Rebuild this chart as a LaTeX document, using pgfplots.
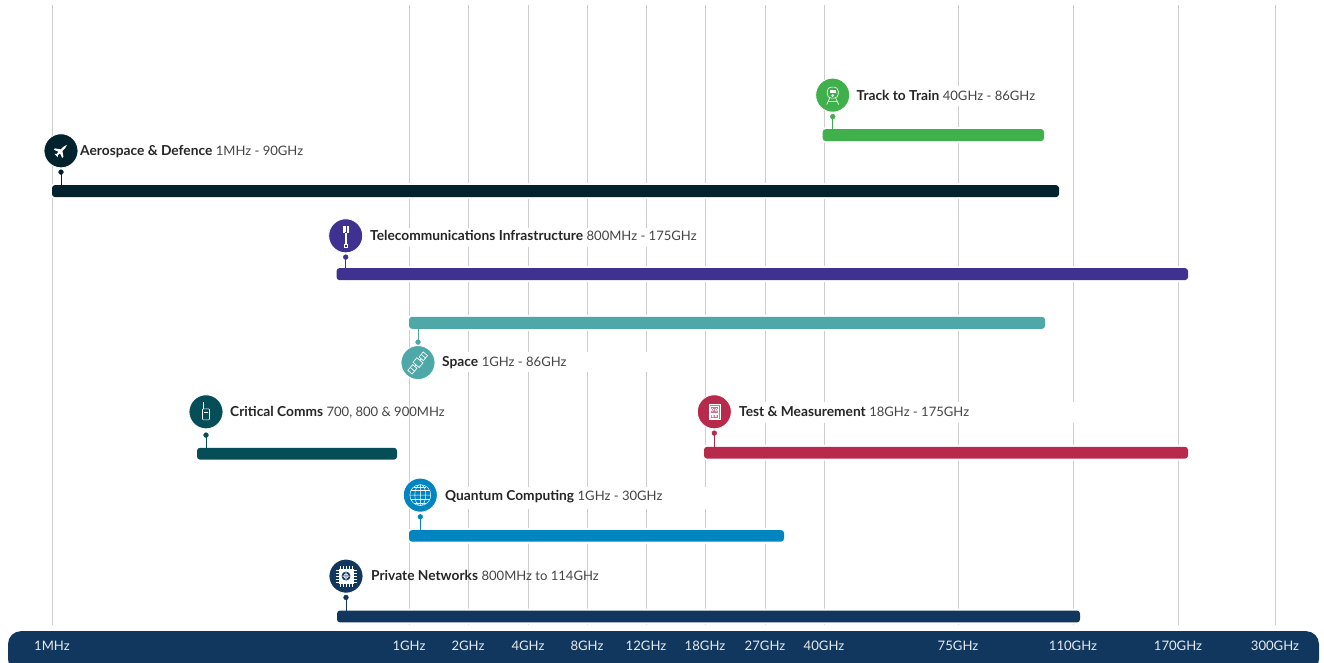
\documentclass[border=0pt]{standalone}
\usepackage{pgfplots}
\pgfplotsset{compat=1.18}
\usepackage{fontspec}
\setmainfont{Lato}
\definecolor{gridc}{HTML}{CDCDCD}
\definecolor{aero}{HTML}{02222E}
\definecolor{track}{HTML}{3FB04C}
\definecolor{tele}{HTML}{3F3190}
\definecolor{space}{HTML}{4EA8A8}
\definecolor{crit}{HTML}{054E57}
\definecolor{testc}{HTML}{B72A4B}
\definecolor{quant}{HTML}{0085C1}
\definecolor{priv}{HTML}{12375E}
\definecolor{lab}{HTML}{444444}
\definecolor{labb}{HTML}{262626}
\newcommand{\gl}[1]{\addplot[gridc,line width=1pt,forget plot] coordinates {(#1,5)(#1,625)};}
\newcommand{\band}[4]{\addplot[fill=white,draw=none,forget plot] coordinates {(#1,#3)(#2,#3)(#2,#4)(#1,#4)} --cycle;}
\newcommand{\rbar}[5]{%
\addplot[fill=#5,draw=white,line width=4pt,rounded corners=3pt,forget plot] coordinates {(#1,#3)(#2,#3)(#2,#4)(#1,#4)} --cycle;
\addplot[fill=#5,draw=none,rounded corners=3pt,forget plot] coordinates {(#1,#3)(#2,#3)(#2,#4)(#1,#4)} --cycle;}
% x, circle y, pin dot y, bar edge y, colour
\newcommand{\pin}[5]{%
\addplot[#5,line width=1pt,forget plot] coordinates {(#1,#3)(#1,#4)};
\addplot[only marks,mark=*,mark size=2.4pt,mark options={fill=#5,draw=#5},forget plot] coordinates {(#1,#3)};
\addplot[only marks,mark=*,mark size=17pt,mark options={fill=#5,draw=white,line width=.8pt},forget plot] coordinates {(#1,#2)};}
\newcommand{\lbl}[4]{\node[anchor=base west,inner sep=0pt] at (axis cs:#1,#2) {\fontsize{13.75}{15}\selectfont\textcolor{labb}{\textbf{#3}} \fontsize{13.05}{15}\selectfont\textcolor{lab}{#4}};}
\tikzset{ic/.style={x=1pt,y=1pt,white,line width=.7pt}}
\begin{document}
\begin{tikzpicture}
\begin{axis}[
  width=1324pt,height=662pt,scale only axis,
  xmin=0,xmax=1324,ymin=0,ymax=662,y dir=reverse,
  axis on top,
  axis line style={draw=none},
  major tick length=0pt,
  ytick=\empty,
  xtick={52,409,468,528,587,646,705,765,824,958,1073,1178,1275},
  xticklabels={1MHz,1GHz,2GHz,4GHz,8GHz,12GHz,18GHz,27GHz,40GHz,75GHz,110GHz,170GHz,300GHz},
  xticklabel pos=left,
  xticklabel style={anchor=base,yshift=11.4pt,text=white!90!priv,font=\fontsize{13.1}{15}\selectfont},
]
% axis band
\addplot[fill=priv,draw=none,rounded corners=13pt,forget plot] coordinates {(8,631)(1319,631)(1319,672)(8,672)} --cycle;
% grid lines
\gl{52}\gl{409}\gl{468}\gl{528}\gl{587}\gl{646}\gl{705}\gl{765}\gl{824}\gl{958}\gl{1073}\gl{1178}\gl{1275}
% label halos
\band{850}{1040}{86}{106}
\band{365}{700}{228}{247}
\band{400}{650}{352}{372}
\band{730}{1080}{402}{423}
\band{400}{710}{487}{509}
% bars
\rbar{822.7}{1044}{129}{141}{track}
\rbar{52}{1059}{185}{197}{aero}
\rbar{336.5}{1188}{268}{280}{tele}
\rbar{409}{1045}{316.7}{328.7}{space}
\rbar{197}{397}{447.7}{459.5}{crit}
\rbar{704}{1188}{446.7}{458.5}{testc}
\rbar{409}{784}{530}{541.5}{quant}
\rbar{337}{1080}{610.5}{622.3}{priv}
% pins and discs
\pin{832.7}{95}{116.5}{129}{track}
\pin{61}{150.7}{172}{185}{aero}
\pin{345.7}{235.7}{257}{268}{tele}
\pin{418}{362.5}{342}{328}{space}
\pin{206}{411.7}{435}{448}{crit}
\pin{714.3}{411.7}{433}{447}{testc}
\pin{420.3}{495}{516.7}{530}{quant}
\pin{346}{576}{597.3}{611}{priv}
\coordinate (c1) at (axis cs:61,150.7);
\coordinate (c2) at (axis cs:832.7,95);
\coordinate (c3) at (axis cs:345.7,235.7);
\coordinate (c4) at (axis cs:418,362.5);
\coordinate (c5) at (axis cs:206,411.7);
\coordinate (c6) at (axis cs:714.3,411.7);
\coordinate (c7) at (axis cs:420.3,495);
\coordinate (c8) at (axis cs:346,576);
% labels
\lbl{80}{155.5}{Aerospace \& Defence}{1MHz - 90GHz}
\lbl{856.5}{100}{Track to Train}{40GHz - 86GHz}
\lbl{370}{240}{Telecommunications Infrastructure}{800MHz - 175GHz}
\lbl{442}{366}{Space}{1GHz - 86GHz}
\lbl{230}{416}{Critical Comms}{700, 800 \& 900MHz}
\lbl{739}{416}{Test \& Measurement}{18GHz - 175GHz}
\lbl{445}{500}{Quantum Computing}{1GHz - 30GHz}
\lbl{371}{580}{Private Networks}{800MHz to 114GHz}
\end{axis}
% icons
\begin{scope}[shift={(c1)},ic,rotate=-45,scale=.85]
 \fill[white] (0,10) -- (1.4,5) -- (1.4,1) -- (7,-3) -- (7,-5) -- (1.4,-3) -- (1,-6) -- (3,-8) -- (-3,-8) -- (-1,-6) -- (-1.4,-3) -- (-7,-5) -- (-7,-3) -- (-1.4,1) -- (-1.4,5) -- cycle;
\end{scope}
\begin{scope}[shift={(c2)},ic,line width=.6pt]
 \draw[rounded corners=4pt] (-5.5,-3) rectangle (5.5,8);
 \fill[white] (-3,5.5) rectangle (3,2);
 \draw (-3,-3) -- (-6,-9.5) (3,-3) -- (6,-9.5) (-4.6,-6.5) -- (4.6,-6.5);
 \draw (0,-.5) circle (1);
\end{scope}
\begin{scope}[shift={(c3)},ic,line width=.55pt]
 \draw (-.8,-8) -- (-.8,3) (.8,-8) -- (.8,3) (-1.8,-11) rectangle (1.8,-8);
 \draw (-2.8,9.5) rectangle (-1.2,3.5) (2.8,9.5) rectangle (1.2,3.5) (0,9.5) -- (0,3.5);
\end{scope}
\begin{scope}[shift={(c4)},ic,rotate=50,line width=.7pt]
 \draw (-3,-4) rectangle (3,4);
 \draw (-3,0) -- (-5,0) (3,0) -- (5,0);
 \draw (5,-2.8) rectangle (11.5,2.8) (-12.5,-2.8) rectangle (-5,2.8);
 \draw (8.3,-2.8) -- (8.3,2.8) (-8.7,-2.8) -- (-8.7,2.8);
\end{scope}
\begin{scope}[shift={(c5)},ic,line width=.6pt]
 \draw[rounded corners=.8pt] (-3.5,-8) rectangle (3.5,3);
 \draw (-2,0) -- (2,0) (-2.5,3) -- (-2.5,10);
\end{scope}
\begin{scope}[shift={(c6)},ic,line width=.55pt]
 \draw (-5.5,-7.5) rectangle (5.5,7.5);
 \fill[white,opacity=.35] (-5.5,-7.5) rectangle (5.5,7.5);
 \draw (-4,-6) rectangle (4,-2.5) (-4,-1) rectangle (4,6);
 \draw (-2,2) circle (1.4) (2,2) circle (1.4) (-1.6,-4.2) circle (.9) (1.6,-4.2) circle (.9);
\end{scope}
\begin{scope}[shift={(c7)},ic,line width=.45pt]
 \draw (0,0) circle (10.5) (0,0) ellipse (5.5 and 10.5) (0,-10.5) -- (0,10.5) (-10.5,0) -- (10.5,0);
 \draw (-9.5,4.5) -- (9.5,4.5) (-9.5,-4.5) -- (9.5,-4.5) (-6,8) -- (6,8) (-6,-8) -- (6,-8);
\end{scope}
\begin{scope}[shift={(c8)},ic,line width=.6pt]
 \draw (-6,-10.5) -- (-6,10.5) (-3,-10.5) -- (-3,10.5) (0,-10.5) -- (0,10.5) (3,-10.5) -- (3,10.5) (6,-10.5) -- (6,10.5);
 \draw (-10.5,-6) -- (10.5,-6) (-10.5,-3) -- (10.5,-3) (-10.5,0) -- (10.5,0) (-10.5,3) -- (10.5,3) (-10.5,6) -- (10.5,6);
 \fill[white] (-7.5,-7.5) rectangle (7.5,7.5);
 \fill[priv] (0,0) circle (4.5);
 \draw (0,0) circle (2.2) (-4.5,0) -- (4.5,0) (0,-4.5) -- (0,4.5);
\end{scope}
\end{tikzpicture}
\end{document}
